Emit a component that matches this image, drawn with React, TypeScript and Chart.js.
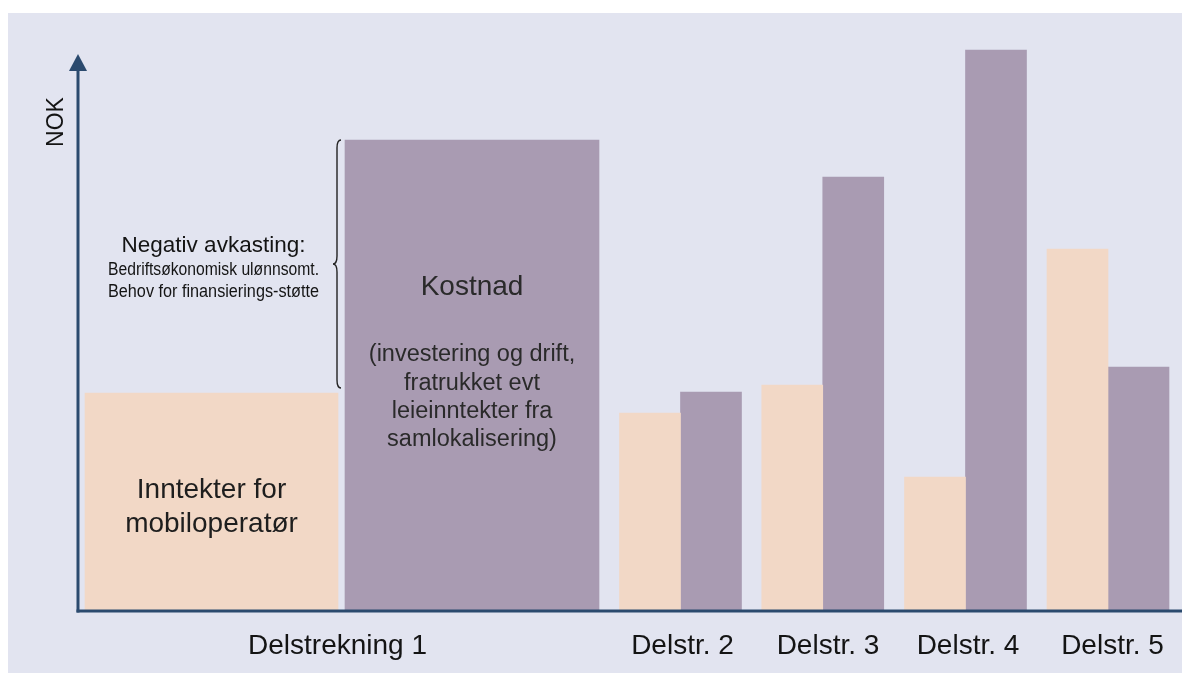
import React, { useEffect, useRef } from 'react';
import { Chart, registerables } from 'chart.js';

Chart.register(...registerables);

// ---- data ----
const categories = ['Delstrekning 1', 'Delstr. 2', 'Delstr. 3', 'Delstr. 4', 'Delstr. 5'];
const groupCenters = [263.75, 602.5, 744.75, 887.5, 1030];
const labelCenters = [259.5, 604.5, 750, 890, 1034.5];
const incomeValues = [218, 198, 226, 134, 362];
const costValues = [471, 219, 434, 561, 244];

const incomeLabel = ['Inntekter for', 'mobiloperatør'];
const costTitle = 'Kostnad';
const costNote = ['(investering og drift,', 'fratrukket evt', 'leieinntekter fra', 'samlokalisering)'];
const braceTitle = 'Negativ avkasting:';
const braceNote = ['Bedriftsøkonomisk ulønnsomt.', 'Behov for finansierings-støtte'];
const yTitle = 'NOK';

// ---- style ----
const PANEL = '#e2e4f0';
const PEACH = '#f2d8c6';
const PURPLE = '#a99bb2';
const AXIS = '#2b4a6e';
const TEXT = '#141414';
const SANS = '"Liberation Sans", Arial, sans-serif';

const BIG_HALF = 130.25;
const SMALL_HALF = 30.5;

const annotationPlugin = {
  id: 'annotations',
  afterDatasetsDraw(chart: any) {
    const { ctx, chartArea, scales } = chart;
    const y = scales.y;
    const inc0 = chart.getDatasetMeta(0).data[0];
    const cost0 = chart.getDatasetMeta(1).data[0];
    ctx.save();

    // axes
    ctx.strokeStyle = AXIS;
    ctx.fillStyle = AXIS;
    ctx.lineWidth = 3;
    const left = chartArea.left;
    const bottom = chartArea.bottom;
    const tipY = chartArea.top + 23;
    ctx.beginPath();
    ctx.moveTo(left, bottom + 1.5);
    ctx.lineTo(left, tipY + 14);
    ctx.stroke();
    ctx.beginPath();
    ctx.moveTo(left, tipY);
    ctx.lineTo(left - 9, tipY + 17);
    ctx.lineTo(left + 9, tipY + 17);
    ctx.closePath();
    ctx.fill();
    ctx.beginPath();
    ctx.moveTo(left - 1.5, bottom);
    ctx.lineTo(chartArea.right, bottom);
    ctx.stroke();

    // y title
    ctx.fillStyle = TEXT;
    ctx.font = `23px ${SANS}`;
    ctx.textAlign = 'center';
    ctx.textBaseline = 'middle';
    ctx.save();
    ctx.translate(left - 21, chartArea.top + 91);
    ctx.rotate(-Math.PI / 2);
    ctx.fillText(yTitle, 0, 0);
    ctx.restore();

    // income label
    ctx.font = `28px ${SANS}`;
    ctx.fillStyle = '#1e1e1e';
    ctx.fillText(incomeLabel[0], inc0.x, y.getPixelForValue(121));
    ctx.fillText(incomeLabel[1], inc0.x, y.getPixelForValue(87));

    // cost label
    ctx.fillStyle = '#2a2a2a';
    ctx.fillText(costTitle, cost0.x, y.getPixelForValue(324));
    ctx.font = `23.5px ${SANS}`;
    const noteVals = [256, 227, 199, 171];
    costNote.forEach((t, i) => ctx.fillText(t, cost0.x, y.getPixelForValue(noteVals[i])));

    // brace
    const bx = cost0.x - cost0.width / 2 - 8;
    const top = cost0.y;
    const bot = inc0.y - 5;
    const mid = (top + bot) / 2;
    ctx.strokeStyle = '#222';
    ctx.lineWidth = 1.4;
    ctx.beginPath();
    ctx.moveTo(bx + 4, top);
    ctx.quadraticCurveTo(bx, top, bx, top + 8);
    ctx.lineTo(bx, mid - 8);
    ctx.quadraticCurveTo(bx, mid, bx - 4, mid);
    ctx.quadraticCurveTo(bx, mid, bx, mid + 8);
    ctx.lineTo(bx, bot - 8);
    ctx.quadraticCurveTo(bx, bot, bx + 4, bot);
    ctx.stroke();

    // brace text
    const tx = inc0.x + 2;
    ctx.fillStyle = TEXT;
    ctx.font = `22.5px ${SANS}`;
    ctx.fillText(braceTitle, tx, y.getPixelForValue(365), 185);
    ctx.font = `17.5px ${SANS}`;
    ctx.fillText(braceNote[0], tx, y.getPixelForValue(341), 211);
    ctx.fillText(braceNote[1], tx, y.getPixelForValue(319), 211);

    ctx.restore();
  },
};

export default function App() {
  const ref = useRef<HTMLCanvasElement>(null);

  useEffect(() => {
    if (!ref.current) return;
    const datasets = [
      {
        label: 'Inntekter',
        data: [{ x: groupCenters[0] - BIG_HALF, y: incomeValues[0] }],
        backgroundColor: PEACH,
        barThickness: 253,
      },
      {
        label: 'Kostnad',
        data: [{ x: groupCenters[0] + BIG_HALF, y: costValues[0] }],
        backgroundColor: PURPLE,
        barThickness: 254,
      },
      {
        label: 'Inntekter ',
        data: groupCenters.slice(1).map((c, i) => ({ x: c - SMALL_HALF, y: incomeValues[i + 1] })),
        backgroundColor: PEACH,
        barThickness: 61,
      },
      {
        label: 'Kostnad ',
        data: groupCenters.slice(1).map((c, i) => ({ x: c + SMALL_HALF, y: costValues[i + 1] })),
        backgroundColor: PURPLE,
        barThickness: 61,
      },
    ];

    const chart = new Chart(ref.current, {
      type: 'bar',
      data: { datasets: datasets as any },
      options: {
        animation: false,
        responsive: false,
        devicePixelRatio: 1,
        grouped: false,
        layout: { padding: { left: 70, right: 7, top: 18, bottom: 2 } },
        plugins: { legend: { display: false }, tooltip: { enabled: false } },
        scales: {
          x: {
            type: 'linear',
            min: 0,
            max: 1105,
            offset: false,
            grid: { display: false },
            border: { display: false },
            afterBuildTicks: (scale: any) => {
              scale.ticks = labelCenters.map((v) => ({ value: v }));
            },
            afterFit: (scale: any) => {
              scale.height = 60;
            },
            ticks: {
              autoSkip: false,
              maxRotation: 0,
              padding: 10,
              color: TEXT,
              font: { family: SANS, size: 28 },
              callback: (value: any) => {
                const i = labelCenters.indexOf(Number(value));
                return i >= 0 ? categories[i] : '';
              },
            },
          },
          y: {
            min: 0,
            max: 580,
            display: false,
          },
        },
      } as any,
      plugins: [annotationPlugin],
    });
    return () => chart.destroy();
  }, []);

  return (
    <div style={{ width: 1182, height: 660, marginTop: 5, background: PANEL }}>
      <canvas ref={ref} width={1182} height={660} style={{ display: 'block' }} />
    </div>
  );
}
